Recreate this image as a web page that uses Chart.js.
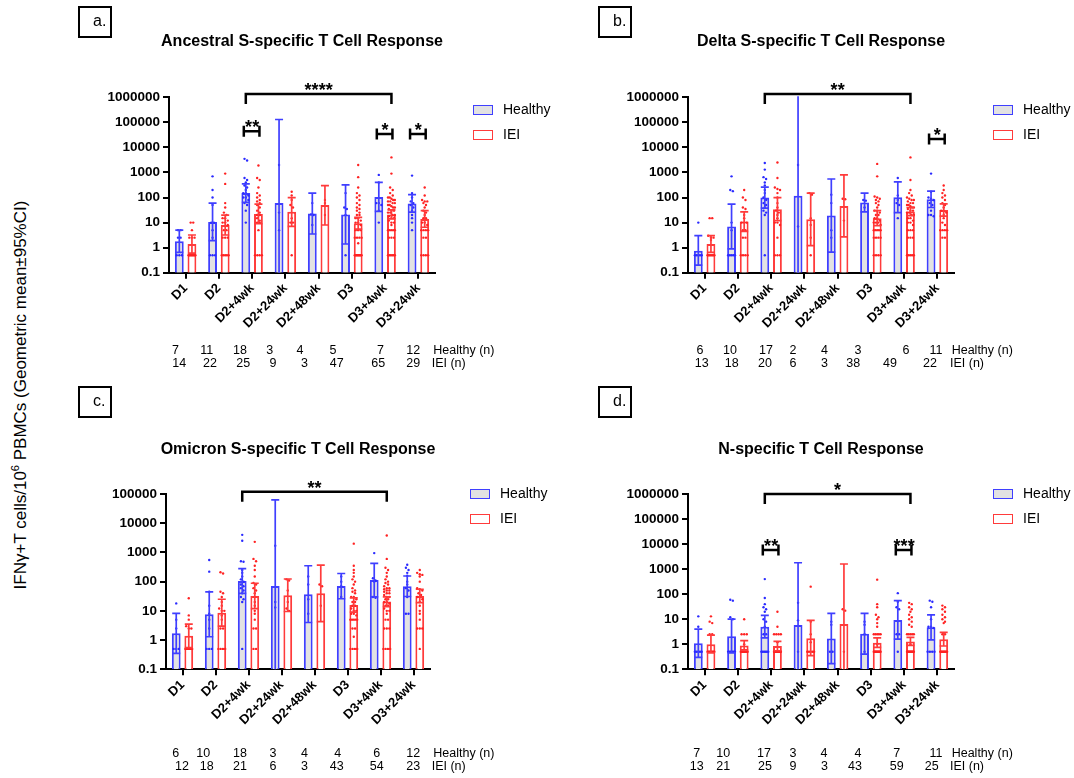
<!DOCTYPE html>
<html>
<head>
<meta charset="utf-8">
<title>IFN-gamma T cell responses</title>
<script src="https://cdn.jsdelivr.net/npm/chart.js@4.4.1/dist/chart.umd.min.js"></script>
<style>
  body { margin: 0; background: #fff; font-family: "Liberation Sans", Arial, sans-serif; }
  #fig { position: relative; width: 1074px; height: 778px; overflow: hidden; background: #fff; }
  #fig canvas { position: absolute; }
  .panelBox { position: absolute; box-sizing: border-box; width: 34px; height: 32px; border: 2px solid #000; font-size: 16px; line-height: 26px; padding-left: 13px; }
  .title { position: absolute; white-space: nowrap; font-weight: bold; font-size: 16px; transform: translate(-50%, -50%); }
  .legItem { position: absolute; font-size: 14px; white-space: nowrap; transform: translateY(-50%); }
  .legItem span { display: inline-block; box-sizing: border-box; width: 20px; height: 10px; border: 1.5px solid; margin-right: 10px; vertical-align: -1px; }
  .nCell { position: absolute; font-size: 12.5px; transform: translate(-50%, -50%); white-space: nowrap; }
  .nLabel { position: absolute; font-size: 12.5px; transform: translateY(-50%); white-space: nowrap; }
  #yTitle { position: absolute; left: 20px; top: 395px; font-size: 17px; white-space: nowrap; transform: translate(-50%, -50%) rotate(-90deg); }
</style>
</head>
<body>
<div id="fig">
  <div id="yTitle">IFNγ+T cells/10<sup style="font-size:11px">6</sup> PBMCs (Geometric mean±95%CI)</div>
</div>
<script>
// shared axes
const categories = ['D1', 'D2', 'D2+4wk', 'D2+24wk', 'D2+48wk', 'D3', 'D3+4wk', 'D3+24wk'];
const yTicksWide = [0.1, 1, 10, 100, 1000, 10000, 100000, 1000000];
const yTicksOmicron = [0.1, 1, 10, 100, 1000, 10000, 100000];

// a. Ancestral S
const ancHealthyMean = [1.8, 10.6, 150, 60, 23, 21, 105, 58];
const ancHealthyLow = [0.65, 1.9, 64, 0.03, 3.5, 1.4, 28, 26];
const ancHealthyHigh = [5, 60, 350, 130000, 150, 320, 400, 130];
const ancIeiMean = [1.4, 8, 22, 27, 50, 9.5, 21, 14];
const ancIeiLow = [0.6, 3.2, 9, 7, 8, 5.5, 14, 6.5];
const ancIeiHigh = [3.2, 20, 55, 100, 300, 16, 32, 30];
const ancHealthyN = [7, 11, 18, 3, 4, 5, 7, 12];
const ancIeiN = [14, 22, 25, 9, 3, 47, 65, 29];
const ancHealthyPts = [
  [5, 5, 2.5, 2.5, 0.5, 0.5, 0.5],
  [700, 200, 100, 50, 10, 10, 5, 2.5, 0.5, 0.5, 0.5],
  [3500, 3000, 600, 500, 400, 300, 250, 200, 150, 150, 120, 100, 100, 80, 60, 50, 30, 10],
  [2000, 25, 5],
  [60, 21, 20, 8],
  [150, 40, 35, 20, 0.5],
  [800, 400, 60, 60, 50, 30, 10],
  [750, 150, 100, 70, 60, 50, 40, 30, 20, 15, 10, 5]
];
const ancIeiPts = [
  [10, 10, 5, 2.5, 2.5, 2.5, 0.5, 0.5, 0.5, 0.5, 0.5, 0.5, 0.5, 0.5],
  [900, 350, 60, 40, 25, 20, 15, 15, 12, 10, 10, 8, 5, 5, 2.5, 2.5, 2.5, 0.5, 0.5, 0.5, 0.5, 0.5],
  [1900, 600, 500, 250, 150, 120, 100, 80, 70, 60, 50, 40, 30, 25, 20, 20, 15, 12, 10, 10, 5, 0.5, 0.5, 0.5, 0.5],
  [170, 120, 80, 50, 40, 15, 10, 10, 0.5],
  [80, 60, 20],
  [2000, 650, 250, 150, 120, 100, 80, 60, 50, 40, 35, 30, 25, 20, 20, 15, 15, 12, 10, 10, 8, 5, 5, 5, 2.5, 2.5, 2.5, 2.5, 1.5, 0.5, 0.5, 0.5, 0.5, 0.5, 0.5, 0.5, 0.5, 0.5],
  [4000, 900, 250, 200, 150, 120, 100, 100, 90, 80, 80, 70, 70, 60, 60, 50, 50, 45, 40, 40, 35, 30, 30, 25, 25, 20, 20, 18, 15, 15, 12, 10, 10, 8, 5, 5, 5, 5, 5, 2.5, 2.5, 2.5, 0.5, 0.5, 0.5, 0.5, 0.5, 0.5],
  [250, 120, 80, 70, 70, 60, 50, 40, 30, 25, 20, 15, 15, 10, 10, 8, 5, 5, 5, 5, 2.5, 2.5, 0.5, 0.5, 0.5, 0.5]
];
const ancBrackets = [
  { from: [2, 0], to: [6, 1], y: 1360000, text: '****', span: true },
  { from: [2, 0], to: [2, 1], y: 44000, text: '**' },
  { from: [6, 0], to: [6, 1], y: 34000, text: '*' },
  { from: [7, 0], to: [7, 1], y: 34000, text: '*' }
];

// b. Delta S
const deltaHealthyMean = [0.76, 7, 100, 117, 19, 63, 103, 85];
const deltaHealthyLow = [0.2, 0.9, 38, 0.003, 0.66, 27, 25, 40];
const deltaHealthyHigh = [3, 55, 260, 5000000, 550, 150, 420, 180];
const deltaIeiMean = [1.4, 11, 34, 13.5, 46, 15, 28, 32];
const deltaIeiLow = [0.65, 4.5, 12, 1.2, 2.7, 7.5, 19, 18];
const deltaIeiHigh = [3, 27, 100, 150, 800, 30, 40, 56];
const deltaHealthyN = [6, 10, 17, 2, 4, 3, 6, 11];
const deltaIeiN = [13, 18, 20, 6, 3, 38, 49, 22];
const deltaHealthyPts = [
  [10, 0.5, 0.5, 0.5, 0.5, 0.5],
  [700, 200, 180, 10, 5, 0.5, 0.5, 0.5, 0.5, 0.5],
  [2400, 1300, 650, 550, 400, 300, 200, 150, 100, 80, 60, 50, 40, 30, 25, 20, 0.5],
  [2000, 7],
  [130, 60, 5, 2.5],
  [80, 75, 40],
  [600, 120, 80, 60, 50, 15],
  [900, 170, 100, 90, 80, 60, 50, 30, 20, 20, 18]
];
const deltaIeiPts = [
  [15, 15, 3, 2.5, 2.5, 2, 0.5, 0.5, 0.5, 0.5, 0.5, 0.5, 0.5],
  [200, 100, 80, 40, 35, 20, 15, 10, 10, 10, 5, 5, 2.5, 2.5, 0.5, 0.5, 0.5, 0.5],
  [2500, 600, 250, 220, 200, 150, 100, 60, 40, 30, 25, 20, 15, 10, 10, 8, 2.5, 0.5, 0.5, 0.5],
  [150, 130, 15, 8, 2.5, 0.5],
  [90, 85, 12],
  [2200, 700, 110, 100, 90, 80, 70, 60, 50, 40, 30, 30, 25, 20, 20, 15, 15, 12, 10, 10, 10, 8, 5, 5, 5, 5, 5, 2.5, 2.5, 2.5, 2.5, 0.5, 0.5, 0.5, 0.5],
  [4000, 500, 200, 150, 120, 100, 90, 80, 80, 70, 60, 60, 50, 50, 45, 40, 40, 35, 30, 30, 25, 25, 20, 20, 15, 15, 12, 10, 10, 8, 5, 5, 5, 2.5, 2.5, 2.5, 0.5, 0.5, 0.5, 0.5, 0.5],
  [300, 200, 150, 120, 100, 80, 60, 50, 40, 30, 30, 25, 20, 15, 10, 8, 5, 5, 5, 5, 2.5, 2.5]
];
const deltaBrackets = [
  { from: [2, 0], to: [6, 1], y: 1360000, text: '**', span: true },
  { from: [7, 0], to: [7, 1], y: 21500, text: '*' }
];

// c. Omicron S
const omiHealthyMean = [1.7, 7.6, 105, 71, 37, 71, 114, 70];
const omiHealthyLow = [0.35, 1.3, 40, 0.08, 4, 26, 30, 31];
const omiHealthyHigh = [8.2, 45, 280, 63000, 350, 190, 425, 156];
const omiIeiMean = [1.4, 8.7, 32, 34, 40, 16, 21, 32];
const omiIeiLow = [0.55, 3, 12, 9.5, 4.3, 9, 14, 19];
const omiIeiHigh = [3.5, 25, 88, 123, 370, 28, 30, 55];
const omiHealthyN = [6, 10, 18, 3, 4, 4, 6, 12];
const omiIeiN = [12, 18, 21, 6, 3, 43, 54, 23];
const omiHealthyPts = [
  [18, 5, 2.5, 0.5, 0.5, 0.5],
  [550, 220, 45, 15, 8, 5, 2.5, 0.5, 0.5, 0.5],
  [4000, 2500, 500, 480, 250, 200, 150, 120, 100, 80, 70, 60, 50, 40, 30, 25, 20, 0.5],
  [1700, 20, 13],
  [150, 80, 25, 8],
  [150, 100, 70, 30],
  [950, 130, 110, 100, 30, 28],
  [380, 300, 250, 200, 160, 100, 80, 60, 50, 30, 8, 8]
];
const omiIeiPts = [
  [27, 7, 5, 3, 2.5, 2.5, 0.5, 0.5, 0.5, 0.5, 0.5, 0.5],
  [210, 190, 45, 40, 30, 20, 15, 12, 10, 10, 7, 5, 2.5, 2.5, 0.5, 0.5, 0.5, 0.5],
  [2300, 600, 500, 350, 250, 150, 90, 80, 60, 50, 40, 30, 20, 15, 10, 8, 5, 2.5, 2.5, 0.5, 0.5],
  [120, 110, 50, 20, 12, 10],
  [80, 70, 15],
  [2000, 350, 250, 200, 150, 120, 100, 80, 60, 50, 45, 40, 30, 30, 25, 20, 20, 15, 15, 12, 10, 10, 8, 8, 7, 5, 5, 5, 5, 5, 2.5, 2.5, 1.3, 0.5, 0.5, 0.5, 0.5],
  [3800, 600, 300, 250, 200, 150, 120, 100, 90, 80, 70, 60, 60, 55, 50, 50, 45, 40, 40, 35, 30, 30, 25, 25, 20, 20, 18, 15, 15, 12, 10, 10, 8, 5, 5, 2.5, 2.5, 2.5, 0.5, 0.5, 0.5, 0.5],
  [250, 200, 180, 170, 150, 100, 60, 55, 50, 40, 35, 30, 30, 25, 20, 15, 10, 8, 5, 2.5, 2.5, 2.5, 0.5]
];
const omiBrackets = [
  { from: [2, 0], to: [6, 1], y: 120000, text: '**', span: true }
];

// d. N
const nucHealthyMean = [1.1, 2.1, 5, 5.9, 1.7, 2.6, 9.3, 4.8];
const nucHealthyLow = [0.3, 0.45, 1.8, 0.02, 0.17, 0.4, 1.6, 1.5];
const nucHealthyHigh = [4, 10, 14.3, 1800, 17, 17, 55, 15];
const nucIeiMean = [1.0, 0.9, 0.85, 1.75, 6.5, 1.15, 1.3, 1.6];
const nucIeiLow = [0.45, 0.6, 0.55, 0.35, 0.026, 0.75, 0.9, 0.85];
const nucIeiHigh = [2.3, 1.4, 1.3, 9, 1600, 1.8, 1.9, 3];
const nucHealthyN = [7, 10, 17, 3, 4, 4, 7, 11];
const nucIeiN = [13, 21, 25, 9, 3, 43, 59, 25];
const nucHealthyPts = [
  [13, 5, 0.5, 0.5, 0.5, 0.5, 0.5],
  [60, 55, 12, 10, 0.5, 0.5, 0.5, 0.5, 0.5, 0.5],
  [400, 70, 40, 30, 25, 20, 10, 8, 5, 2.5, 2.5, 0.5, 0.5, 0.5, 0.5, 0.5, 0.5],
  [45, 9, 0.5],
  [8, 6, 0.5, 0.5],
  [8, 6, 2.5, 0.5],
  [110, 50, 30, 25, 2.5, 2.5, 0.5],
  [55, 50, 30, 10, 5, 5, 4.5, 0.5, 0.5, 0.5, 0.5]
];
const nucIeiPts = [
  [13, 8, 7, 2.5, 2.5, 0.5, 0.5, 0.5, 0.5, 0.5, 0.5, 0.5, 0.5],
  [10, 2.5, 2.5, 2.5, 1, 0.5, 0.5, 0.5, 0.5, 0.5, 0.5, 0.5, 0.5, 0.5, 0.5, 0.5, 0.5],
  [20, 5, 2.5, 2.5, 2.5, 2.5, 1.2, 0.5, 0.5, 0.5, 0.5, 0.5, 0.5, 0.5, 0.5, 0.5, 0.5, 0.5, 0.5],
  [200, 8, 2.5, 1.2, 0.5, 0.5, 0.5, 0.5, 0.5],
  [25, 22, 0.5],
  [380, 40, 30, 15, 12, 10, 7, 5, 2.5, 2.5, 2.5, 2.5, 2.5, 1, 0.5, 0.5, 0.5, 0.5, 0.5, 0.5, 0.5, 0.5, 0.5, 0.5, 0.5, 0.5],
  [45, 40, 30, 25, 20, 15, 12, 10, 8, 6, 5, 2.5, 2.5, 2.5, 2.5, 2.5, 1, 0.5, 0.5, 0.5, 0.5, 0.5, 0.5, 0.5, 0.5, 0.5, 0.5, 0.5, 0.5],
  [35, 30, 25, 20, 15, 12, 10, 8, 7, 2.5, 2.5, 0.5, 0.5, 0.5, 0.5, 0.5, 0.5, 0.5, 0.5, 0.5, 0.5]
];
const nucBrackets = [
  { from: [2, 0], to: [6, 1], y: 1000000, text: '*', span: true },
  { from: [2, 0], to: [2, 1], y: 5800, text: '**' },
  { from: [6, 0], to: [6, 1], y: 5800, text: '***' }
];

const BLUE = '#3f3fff';
const RED = '#ff3b3b';
const FONT = '"Liberation Sans", Arial, sans-serif';
Chart.defaults.font.family = FONT;
Chart.defaults.color = '#000';

const fig = document.getElementById('fig');

// one canvas per quadrant; area = wanted plot rectangle in page pixels
const panels = [
  {
    tag: 'a.', title: 'Ancestral S-specific T Cell Response', yTicks: yTicksWide,
    healthy: [ancHealthyMean, ancHealthyLow, ancHealthyHigh, ancHealthyPts, ancHealthyN],
    iei: [ancIeiMean, ancIeiLow, ancIeiHigh, ancIeiPts, ancIeiN], brackets: ancBrackets,
    cx: 0, cy: 0, area: { left: 169, right: 435, top: 97.3, bottom: 272.7 },
    box: [78, 6], titleXY: [302, 41], legend: [473, 109, 134],
    table: { y: [350, 363], h: [175.5, 206.7, 240, 269.7, 300, 333, 380.5, 413.3], i: [179.3, 210, 243.3, 273, 304.5, 336.7, 378.3, 413.3], lab: [433.3, 431.7] }
  },
  {
    tag: 'b.', title: 'Delta S-specific T Cell Response', yTicks: yTicksWide,
    healthy: [deltaHealthyMean, deltaHealthyLow, deltaHealthyHigh, deltaHealthyPts, deltaHealthyN],
    iei: [deltaIeiMean, deltaIeiLow, deltaIeiHigh, deltaIeiPts, deltaIeiN], brackets: deltaBrackets,
    cx: 537, cy: 0, area: { left: 688, right: 954, top: 97.3, bottom: 272.7 },
    box: [598, 6], titleXY: [821, 41], legend: [993, 109, 134],
    table: { y: [350, 363], h: [700, 730, 766, 793, 824.5, 858, 906, 936], i: [701.7, 731.7, 765, 793, 824.5, 853.3, 890, 930], lab: [951.7, 950] }
  },
  {
    tag: 'c.', title: 'Omicron S-specific T Cell Response', yTicks: yTicksOmicron,
    healthy: [omiHealthyMean, omiHealthyLow, omiHealthyHigh, omiHealthyPts, omiHealthyN],
    iei: [omiIeiMean, omiIeiLow, omiIeiHigh, omiIeiPts, omiIeiN], brackets: omiBrackets,
    cx: 0, cy: 389, area: { left: 166, right: 430, top: 494, bottom: 669.3 },
    box: [78, 386], titleXY: [298, 449], legend: [470, 493, 518],
    table: { y: [752.5, 765.5], h: [175.7, 203.3, 240, 273, 304.5, 337.8, 376.7, 413.3], i: [182, 206.7, 240, 273, 304.5, 336.7, 376.7, 413.3], lab: [433.3, 431.7] }
  },
  {
    tag: 'd.', title: 'N-specific T Cell Response', yTicks: yTicksWide,
    healthy: [nucHealthyMean, nucHealthyLow, nucHealthyHigh, nucHealthyPts, nucHealthyN],
    iei: [nucIeiMean, nucIeiLow, nucIeiHigh, nucIeiPts, nucIeiN], brackets: nucBrackets,
    cx: 537, cy: 389, area: { left: 688, right: 954, top: 494, bottom: 669.3 },
    box: [598, 386], titleXY: [821, 449], legend: [993, 493, 518],
    table: { y: [752.5, 765.5], h: [696.7, 723.3, 764, 793, 824, 858, 896.7, 936], i: [696.7, 723.3, 765, 793, 824.5, 855, 896.7, 931.7], lab: [951.7, 950] }
  }
];

function addDiv(cls, html, left, top) {
  const el = document.createElement('div');
  el.className = cls;
  el.innerHTML = html;
  el.style.left = left + 'px';
  el.style.top = top + 'px';
  fig.appendChild(el);
  return el;
}

// error bars, dots and significance brackets
function makeOverlay(p) {
  return {
    id: 'overlay',
    afterDatasetsDraw(chart) {
      const ctx = chart.ctx;
      const ys = chart.scales.y;
      const area = chart.chartArea;
      chart.data.datasets.forEach((ds, d) => {
        const meta = chart.getDatasetMeta(d);
        meta.data.forEach((bar, i) => {
          const barW = bar.width;
          // dots, spread sideways when they share a height
          const ypx = ds.pts[i].map(v => ys.getPixelForValue(v)).sort((a, b) => a - b);
          ctx.fillStyle = ds.dotColor;
          let k = 0;
          while (k < ypx.length) {
            let m = k + 1;
            while (m < ypx.length && ypx[m] - ypx[k] < 2.5) m++;
            const cnt = m - k;
            const step = cnt > 1 ? Math.min(2.6, (barW - 2) / (cnt - 1)) : 0;
            for (let j = 0; j < cnt; j++) {
              const dx = (j - (cnt - 1) / 2) * step;
              ctx.beginPath();
              ctx.arc(bar.x + dx, ypx[k + j], 1.2, 0, Math.PI * 2);
              ctx.fill();
            }
            k = m;
          }
          // 95% CI whiskers
          ctx.save();
          ctx.beginPath();
          ctx.rect(area.left, area.top - 1, area.right - area.left, area.bottom - area.top + 1);
          ctx.clip();
          const yHi = ys.getPixelForValue(ds.ciHigh[i]);
          const yLo = ys.getPixelForValue(ds.ciLow[i]);
          ctx.strokeStyle = ds.borderColor;
          ctx.lineWidth = 1.7;
          ctx.beginPath();
          ctx.moveTo(bar.x, yLo);
          ctx.lineTo(bar.x, yHi);
          ctx.moveTo(bar.x - 4, yHi);
          ctx.lineTo(bar.x + 4, yHi);
          ctx.moveTo(bar.x - 4, yLo);
          ctx.lineTo(bar.x + 4, yLo);
          ctx.stroke();
          ctx.restore();
        });
      });
    },
    afterDraw(chart) {
      const ctx = chart.ctx;
      const ys = chart.scales.y;
      ctx.save();
      ctx.strokeStyle = '#000';
      ctx.fillStyle = '#000';
      ctx.lineWidth = 2.5;
      ctx.lineJoin = 'miter';
      ctx.font = 'bold 18px ' + FONT;
      ctx.textAlign = 'center';
      ctx.textBaseline = 'alphabetic';
      p.brackets.forEach(b => {
        const x1 = chart.getDatasetMeta(b.from[1]).data[b.from[0]].x;
        const x2 = chart.getDatasetMeta(b.to[1]).data[b.to[0]].x;
        const yy = ys.getPixelForValue(b.y);
        ctx.beginPath();
        if (b.span) {
          ctx.moveTo(x1, yy + 10);
          ctx.lineTo(x1, yy);
          ctx.lineTo(x2, yy);
          ctx.lineTo(x2, yy + 10);
        } else {
          ctx.moveTo(x1 - 2, yy - 5.5);
          ctx.lineTo(x1 - 2, yy + 5.5);
          ctx.moveTo(x1 - 2, yy);
          ctx.lineTo(x2 + 1, yy);
          ctx.moveTo(x2 + 1, yy - 5.5);
          ctx.lineTo(x2 + 1, yy + 5.5);
        }
        ctx.stroke();
        ctx.fillText(b.text, (x1 + x2) / 2, yy + 2);
      });
      ctx.restore();
    }
  };
}

panels.forEach(p => {
  const W = 537, H = 389, yAxisW = 70, xAxisH = 70;
  const cv = document.createElement('canvas');
  cv.width = W;
  cv.height = H;
  cv.style.left = p.cx + 'px';
  cv.style.top = p.cy + 'px';
  fig.appendChild(cv);

  new Chart(cv, {
    type: 'bar',
    data: {
      labels: categories,
      datasets: [
        {
          label: 'Healthy', data: p.healthy[0], ciLow: p.healthy[1], ciHigh: p.healthy[2], pts: p.healthy[3],
          backgroundColor: '#e2e2e2', borderColor: BLUE, dotColor: '#2a2aff', borderWidth: 2
        },
        {
          label: 'IEI', data: p.iei[0], ciLow: p.iei[1], ciHigh: p.iei[2], pts: p.iei[3],
          backgroundColor: '#ffffff', borderColor: RED, dotColor: '#ff2222', borderWidth: 2
        }
      ]
    },
    options: {
      responsive: false,
      animation: false,
      devicePixelRatio: 1,
      layout: {
        padding: {
          left: p.area.left - p.cx - yAxisW,
          right: p.cx + W - p.area.right,
          top: p.area.top - p.cy,
          bottom: p.cy + H - p.area.bottom - xAxisH
        }
      },
      datasets: {
        bar: { categoryPercentage: 0.76, barPercentage: 0.7 }
      },
      plugins: {
        legend: { display: false },
        tooltip: { enabled: false }
      },
      scales: {
        x: {
          grid: { display: true, drawOnChartArea: false, offset: false, tickLength: 6, color: '#000', lineWidth: 2 },
          border: { display: true, color: '#000', width: 2 },
          ticks: {
            color: '#000', font: { size: 13, weight: 'bold' },
            minRotation: 45, maxRotation: 45, autoSkip: false, padding: 2
          },
          afterFit: s => { s.height = xAxisH; }
        },
        y: {
          type: 'logarithmic',
          min: 0.1,
          max: p.yTicks[p.yTicks.length - 1],
          grid: { display: true, drawOnChartArea: false, tickLength: 6, color: '#000', lineWidth: 2 },
          border: { display: true, color: '#000', width: 2 },
          ticks: {
            color: '#000', font: { size: 13.5, weight: 'bold' }, padding: 3, autoSkip: false,
            callback: v => String(v)
          },
          afterBuildTicks: s => { s.ticks = p.yTicks.map(v => ({ value: v })); },
          afterFit: s => { s.width = yAxisW; }
        }
      }
    },
    plugins: [makeOverlay(p)]
  });

  // panel letter, title, legend, n table
  addDiv('panelBox', p.tag, p.box[0], p.box[1]);
  addDiv('title', p.title, p.titleXY[0], p.titleXY[1]);
  addDiv('legItem', '<span style="background:#e2e2e2;border-color:' + BLUE + '"></span>Healthy', p.legend[0], p.legend[1]);
  addDiv('legItem', '<span style="background:#fff;border-color:' + RED + '"></span>IEI', p.legend[0], p.legend[2]);
  p.healthy[4].forEach((n, i) => addDiv('nCell', n, p.table.h[i], p.table.y[0]));
  p.iei[4].forEach((n, i) => addDiv('nCell', n, p.table.i[i], p.table.y[1]));
  addDiv('nLabel', 'Healthy (n)', p.table.lab[0], p.table.y[0]);
  addDiv('nLabel', 'IEI (n)', p.table.lab[1], p.table.y[1]);
});
</script>
</body>
</html>
